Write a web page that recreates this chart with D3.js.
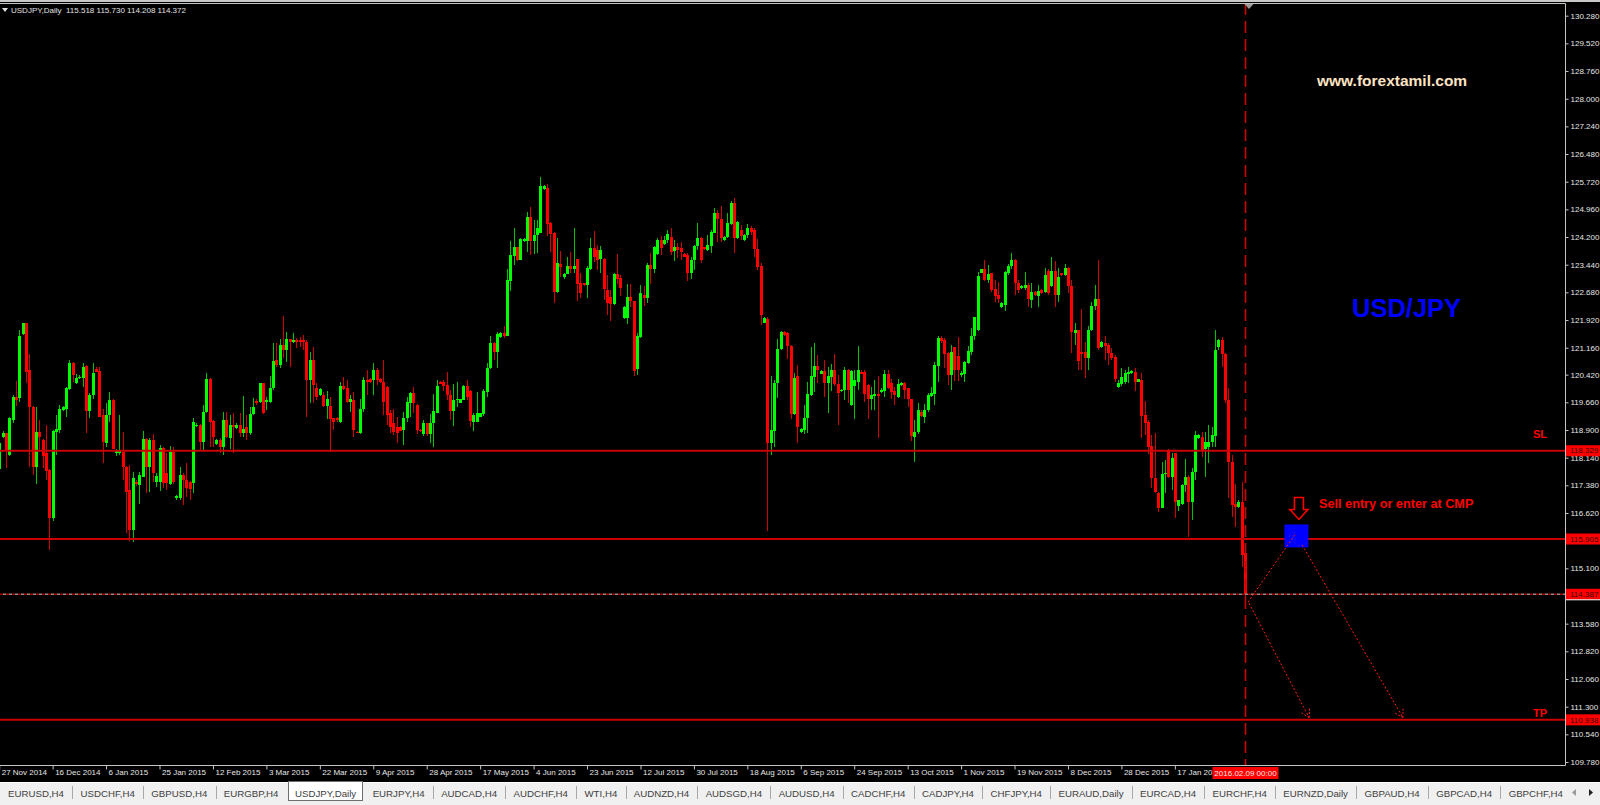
<!DOCTYPE html>
<html><head><meta charset="utf-8">
<script src="https://cdn.jsdelivr.net/npm/d3@7"></script>
<style>html,body{margin:0;padding:0;background:#000;overflow:hidden}</style>
</head><body>
<svg id="c" width="1600" height="805"></svg>
<script>
// ---------------- DATA ----------------
const symbolTitle = "USDJPY,Daily";
const headerOHLC = "115.518 115.730 114.208 114.372";

const opens = [
117.82,118.70,118.81,118.21,119.17,119.81,119.77,121.55,121.83,120.55,
119.54,117.89,118.85,118.62,118.26,117.80,116.47,118.85,118.90,119.45,
119.47,120.02,120.75,120.18,120.32,120.34,120.66,119.42,119.86,120.57,
120.53,119.31,118.53,119.31,119.72,118.26,118.26,118.30,117.89,117.25,
116.15,117.48,117.39,117.62,118.64,117.89,118.62,117.48,117.48,118.41,
117.73,117.43,118.30,117.02,117.02,117.66,117.52,117.48,117.45,119.01,
119.05,118.58,119.40,120.30,119.15,118.51,118.62,118.44,119.17,118.67,
119.04,118.96,119.04,118.81,118.99,118.81,119.33,119.70,119.68,120.18,
119.68,119.68,120.04,120.82,120.68,121.23,121.10,121.39,121.33,121.37,
121.37,121.37,121.33,120.27,120.82,120.04,119.86,119.86,119.56,119.56,
119.22,119.22,119.13,120.11,120.04,119.68,119.72,118.85,118.81,119.49,
120.27,120.29,120.27,120.55,120.29,120.23,120.09,119.36,119.08,118.99,
118.99,118.90,119.22,119.63,119.91,119.59,118.90,118.79,119.08,118.79,
119.08,119.38,120.22,120.22,120.13,119.86,119.43,119.71,119.65,119.72,
120.11,119.97,119.13,119.13,119.27,119.34,119.95,120.59,121.30,121.03,
121.45,121.56,121.48,123.00,123.68,123.92,123.57,124.08,124.08,124.76,
124.08,124.26,124.32,125.52,125.54,124.58,124.32,122.70,123.46,123.09,
123.19,123.41,123.32,123.59,122.95,122.93,122.88,123.32,123.89,123.85,
123.59,123.60,122.75,122.55,122.36,123.19,123.07,121.97,121.97,122.55,
122.43,120.57,121.45,122.60,122.52,123.43,123.32,123.74,124.12,124.00,
124.12,124.21,123.83,123.92,123.89,123.74,123.71,123.22,123.57,123.96,
124.17,123.92,123.85,123.96,124.32,124.87,124.69,124.12,124.19,124.56,
125.13,124.17,124.40,124.12,124.26,124.44,124.40,123.86,123.41,121.85,
121.94,118.53,118.88,120.20,121.12,121.60,121.56,121.21,119.34,120.37,
118.85,118.91,119.24,119.86,120.36,120.65,120.45,120.52,120.18,120.36,
120.56,120.16,119.96,120.01,120.56,119.58,120.11,120.23,120.50,120.50,
120.13,119.74,119.83,119.90,119.95,119.98,120.45,120.18,119.98,119.81,
120.13,120.20,120.04,119.74,118.71,118.85,119.40,119.26,119.45,119.83,
119.88,120.65,121.44,121.37,121.02,120.41,121.17,120.93,120.41,120.45,
120.75,121.05,121.48,121.64,123.22,123.31,123.02,123.20,122.76,122.60,
122.27,122.33,123.20,123.40,123.57,122.94,122.79,122.79,122.88,122.47,
122.70,122.58,122.74,122.70,123.27,122.85,123.27,122.60,123.20,123.15,
123.36,122.85,121.57,121.64,121.05,121.05,120.87,121.64,122.30,122.51,
121.17,121.29,121.23,121.02,120.91,120.07,120.16,120.22,120.43,120.46,
120.50,120.23,120.27,119.31,119.13,118.46,117.57,117.18,116.77,117.69,
118.35,117.62,118.26,116.81,116.88,117.39,117.62,116.93,117.75,118.67,
118.72,118.39,118.44,118.58,118.73,121.19,121.37,121.00,119.72,118.03,
116.87,116.79,116.93,115.518];

const highs = [
118.76,118.87,118.83,119.27,119.86,120.24,121.66,121.85,121.85,120.99,
119.56,119.52,119.17,118.64,119.04,117.82,118.90,119.31,119.59,119.55,
120.09,120.82,120.77,120.44,120.40,120.73,120.68,119.91,120.73,120.64,
120.64,119.49,119.63,119.93,119.74,118.38,119.31,118.85,117.91,117.94,
117.75,117.52,117.75,118.87,118.67,118.69,118.79,117.73,118.49,118.44,
118.26,118.47,118.44,117.12,117.89,117.71,117.98,117.50,119.22,119.08,
119.07,119.60,120.47,120.32,119.17,118.65,118.67,119.40,119.40,119.31,
119.36,119.08,119.36,119.83,119.31,119.54,119.77,119.74,120.20,120.20,
119.81,120.38,121.28,121.28,121.39,122.03,121.60,121.41,121.57,121.44,
121.46,121.51,121.37,121.05,121.19,120.18,120.06,119.95,119.98,119.81,
119.24,119.25,120.23,120.35,120.27,119.86,119.95,118.87,119.74,120.36,
120.55,120.32,120.73,120.59,120.32,120.82,120.11,119.45,119.47,119.27,
119.01,119.40,119.80,119.95,120.07,119.61,118.92,119.18,119.10,119.34,
119.88,120.27,120.24,120.27,120.49,120.00,120.17,120.22,119.76,120.14,
120.27,119.99,119.36,119.93,119.38,120.02,120.73,121.48,121.32,121.58,
121.58,121.76,123.32,124.08,124.44,123.94,124.17,124.17,124.90,125.02,
124.67,124.67,125.84,125.62,125.66,124.62,124.34,124.17,123.83,123.22,
123.66,123.80,124.44,123.61,123.20,122.95,123.41,124.17,124.37,123.98,
123.96,123.62,123.16,122.75,123.22,123.73,123.16,122.31,122.91,122.91,
122.45,121.56,122.88,122.86,123.48,123.75,123.96,124.17,124.23,124.23,
124.38,124.44,124.12,124.05,124.07,123.77,123.75,123.66,123.98,124.58,
124.19,123.94,124.26,124.38,124.99,124.94,125.05,124.23,124.85,125.20,
125.27,124.63,124.53,124.28,124.56,124.50,124.44,124.14,123.48,121.99,
122.01,120.38,120.27,121.39,121.63,121.63,121.58,121.24,120.46,120.69,
118.96,119.58,120.22,121.18,121.30,120.96,120.54,120.82,120.64,120.70,
120.98,120.41,120.03,120.64,120.58,120.55,120.56,121.20,120.54,120.56,
120.16,120.09,120.27,120.38,120.04,120.54,120.54,120.31,120.09,120.31,
120.22,120.22,120.06,119.76,119.17,119.63,119.45,119.61,119.92,120.09,
120.77,121.48,121.48,121.42,121.04,121.23,121.19,121.46,120.53,120.80,
121.20,121.69,122.01,123.25,123.33,123.58,123.43,123.21,123.03,122.97,
122.42,123.27,123.47,123.75,123.59,123.03,122.87,123.25,122.93,122.93,
122.72,122.88,122.76,123.34,123.31,123.64,123.55,123.36,123.22,123.47,
123.38,123.03,121.84,121.66,122.21,121.32,121.75,122.42,122.88,123.57,
121.35,121.48,121.30,121.14,120.96,120.27,120.59,120.54,120.62,120.55,
120.59,120.31,120.46,119.70,119.17,118.76,118.81,117.20,118.01,118.07,
118.37,118.28,118.28,116.99,117.42,118.09,117.66,117.86,118.87,118.80,
118.85,118.85,119.04,118.99,121.66,121.39,121.46,121.02,120.04,118.21,
117.42,116.97,117.48,115.730];

const lows = [
117.80,118.67,117.85,118.18,119.10,119.56,119.68,121.51,120.18,117.89,
117.66,117.42,118.30,117.85,117.52,115.60,116.40,118.21,118.81,119.42,
119.27,120.00,120.23,120.16,120.29,120.09,118.83,119.22,119.75,120.48,
119.25,118.00,118.44,119.13,118.37,118.19,118.21,117.52,116.06,115.86,
115.83,117.37,116.88,117.60,117.16,117.20,117.48,117.34,117.23,117.30,
117.25,117.39,117.43,116.98,116.99,116.84,117.07,116.98,117.16,118.99,
118.35,118.35,119.36,118.44,118.44,118.48,118.26,118.21,118.67,118.39,
118.26,118.93,118.72,118.72,118.62,118.76,119.31,119.60,119.63,119.34,
119.45,119.63,120.00,120.64,120.59,120.87,120.78,120.64,121.28,121.14,
121.19,121.10,119.27,119.63,119.63,119.72,119.83,119.54,119.19,118.30,
118.90,119.13,119.08,120.00,119.63,119.40,118.72,118.81,118.78,119.40,
119.86,120.20,119.86,120.13,120.20,119.31,119.04,118.81,118.76,118.55,
118.86,118.49,119.13,119.27,119.36,118.79,118.84,118.74,118.74,118.55,
118.44,119.36,120.15,119.98,119.71,119.18,119.02,119.54,119.63,119.71,
119.72,118.99,118.86,119.13,119.25,119.29,119.80,120.57,120.81,120.61,
121.43,121.42,121.47,122.73,123.43,123.55,123.57,124.06,123.80,123.71,
123.74,123.75,124.30,125.50,124.23,123.80,122.40,122.65,123.11,123.06,
123.18,123.20,123.20,122.43,122.52,122.86,122.52,123.30,123.52,123.30,
123.21,122.47,122.06,121.90,122.33,122.91,122.57,121.94,121.81,122.29,
120.38,120.41,121.42,122.30,122.38,122.91,123.21,123.71,123.71,123.98,
124.05,123.71,123.55,123.62,123.57,123.64,122.98,123.04,123.30,123.85,
123.50,123.85,123.83,123.77,124.30,124.07,124.07,124.10,124.17,124.53,
123.76,124.14,124.12,124.10,124.17,124.26,123.66,123.30,121.79,121.83,
116.12,118.21,118.44,119.77,121.10,121.47,120.84,119.19,119.31,118.53,
118.83,118.79,118.82,119.83,119.95,120.18,120.43,119.81,119.37,119.97,
120.10,119.03,119.94,119.72,119.65,119.55,119.19,119.99,120.43,119.67,
119.19,119.45,119.45,118.67,119.92,119.81,120.02,119.74,119.58,119.79,
120.11,119.74,119.52,118.60,118.03,118.80,119.26,119.10,119.40,119.81,
119.58,120.22,121.30,120.59,120.13,119.99,120.25,120.25,120.36,120.22,
120.71,120.96,121.37,121.62,123.20,123.00,122.93,122.70,122.42,122.39,
122.24,122.17,123.15,123.31,122.61,122.67,122.76,122.74,122.27,122.24,
122.58,122.28,122.63,122.65,122.60,122.83,122.27,122.42,123.13,123.13,
122.67,121.02,121.23,120.56,120.54,120.32,120.54,121.62,122.19,121.09,
121.14,120.82,120.68,120.82,120.22,120.04,120.11,120.16,120.20,120.44,
119.98,120.21,118.67,118.76,118.24,117.30,117.18,116.65,116.75,117.18,
117.57,117.25,116.47,116.68,116.84,117.20,115.95,116.43,117.52,118.64,
118.15,117.62,118.00,118.44,118.44,121.11,120.64,119.65,117.02,116.50,
116.24,116.77,115.14,114.208];

const closes = [
118.53,118.83,118.35,119.22,119.81,119.72,121.48,121.83,120.50,119.52,
117.89,118.85,118.72,118.18,117.78,116.47,118.87,118.92,119.48,119.52,
120.06,120.73,120.41,120.32,120.36,120.64,119.42,119.86,120.47,120.50,
119.27,118.58,119.31,119.72,118.39,118.33,118.33,117.87,117.20,116.15,
117.57,117.41,117.66,118.64,117.89,118.62,117.73,117.63,118.41,117.45,
117.45,118.30,117.48,117.09,117.66,117.52,117.30,117.27,119.11,119.05,
118.58,119.40,120.30,119.13,118.72,118.62,118.44,119.17,118.72,119.04,
118.97,119.05,118.81,118.94,118.81,119.33,119.54,119.63,120.18,119.36,
119.72,120.04,120.80,120.68,121.23,121.10,121.39,121.33,121.37,121.31,
121.31,121.31,120.27,120.82,120.13,119.81,120.02,119.56,119.74,119.19,
119.13,119.17,120.11,120.02,119.68,119.74,118.90,118.83,119.49,120.27,
120.23,120.23,120.55,120.27,120.23,119.68,119.31,118.99,118.85,118.83,
118.88,119.22,119.66,119.91,119.65,118.90,118.86,119.08,118.79,119.08,
119.43,120.11,120.17,120.11,119.86,119.43,119.71,119.74,119.74,120.11,
119.80,119.16,119.31,119.36,119.36,119.98,120.61,121.30,121.03,121.54,
121.56,121.48,123.02,123.71,123.92,123.57,124.15,124.15,124.76,124.08,
124.26,124.44,125.60,125.59,124.55,124.29,122.70,123.50,123.37,123.19,
123.41,123.32,123.41,122.91,122.67,122.88,123.34,123.89,123.66,123.57,
123.85,122.77,122.38,122.36,123.19,123.04,122.81,122.29,122.55,122.43,
120.53,121.48,122.67,122.52,123.43,123.32,123.94,124.12,123.89,124.12,
124.29,123.80,123.94,123.85,123.80,123.66,123.22,123.57,123.96,124.17,
123.57,123.87,123.98,124.35,124.87,124.69,124.17,124.21,124.58,125.13,
124.17,124.60,124.23,124.26,124.44,124.35,123.86,123.39,122.06,121.97,
118.53,118.90,120.20,121.12,121.60,121.51,121.21,119.34,120.32,118.99,
118.94,119.24,119.88,120.38,120.65,120.54,120.52,120.18,120.38,120.56,
120.16,119.92,120.01,120.54,120.01,120.52,120.26,120.54,120.45,119.90,
119.74,119.86,119.90,119.83,120.01,120.45,120.04,119.95,119.86,120.16,
120.20,120.01,119.74,118.73,118.85,119.45,119.28,119.46,119.86,119.92,
120.68,121.44,121.35,121.00,120.41,121.05,120.56,120.56,120.47,120.77,
121.08,121.48,121.99,123.13,123.31,123.02,123.18,122.74,122.58,122.51,
122.38,123.25,123.40,123.57,122.93,122.74,122.85,122.88,122.49,122.70,
122.60,122.72,122.65,123.15,122.65,123.27,122.60,123.11,123.15,123.34,
122.85,121.60,121.64,120.80,120.98,120.87,121.64,122.30,122.49,121.14,
121.32,121.20,121.02,120.87,120.29,120.20,120.36,120.47,120.50,120.53,
120.23,120.29,119.28,119.10,118.44,117.57,117.20,116.77,117.69,117.73,
117.62,118.14,116.93,116.97,117.39,117.62,116.93,117.75,118.76,118.76,
118.35,118.58,118.58,118.76,121.10,121.37,121.00,119.72,118.03,116.84,
116.79,116.91,115.46,114.372];

const dateTickBars = [0,16,32,48,64,80,96,112,128,144,160,176,192,208,224,240,256,272,288,304,320,336,352];
const dateTickLabels = ["27 Nov 2014","16 Dec 2014","6 Jan 2015","25 Jan 2015","12 Feb 2015","3 Mar 2015",
  "22 Mar 2015","9 Apr 2015","28 Apr 2015","17 May 2015","4 Jun 2015","23 Jun 2015","12 Jul 2015",
  "30 Jul 2015","18 Aug 2015","6 Sep 2015","24 Sep 2015","13 Oct 2015","1 Nov 2015","19 Nov 2015",
  "8 Dec 2015","28 Dec 2015","17 Jan 2016"];
const priceTicks = [130.28,129.52,128.76,128.00,127.24,126.48,125.72,124.96,124.20,123.44,122.68,121.92,
  121.16,120.42,119.66,118.90,118.14,117.38,116.62,115.86,115.10,114.34,113.58,112.82,112.06,111.30,110.54,109.78];

const levelSL = 118.329, levelEntry = 115.905, levelCurrent = 114.387, levelTP = 110.938;
const cursorBar = 373;
const cursorLabel = "2016.02.09 00:00";

// projected trade path (bar index, price)
const legUp    = [[373.9,114.17],[388.3,116.07]];
const legFar   = [[390.1,115.74],[420.3,111.00]];
const legNear  = [[374.2,114.14],[392.2,111.00]];
const entryMark = [388.4, 115.99];

const tabNames = ["EURUSD,H4","USDCHF,H4","GBPUSD,H4","EURGBP,H4","USDJPY,Daily","EURJPY,H4","AUDCAD,H4",
  "AUDCHF,H4","WTI,H4","AUDNZD,H4","AUDSGD,H4","AUDUSD,H4","CADCHF,H4","CADJPY,H4","CHFJPY,H4",
  "EURAUD,Daily","EURCAD,H4","EURCHF,H4","EURNZD,Daily","GBPAUD,H4","GBPCAD,H4","GBPCHF,H4"];
const activeTab = "USDJPY,Daily";

// ---------------- CHART ----------------
const W = 1600, H = 805;
const plot = {left:0, right:1565, top:3, bottom:765};
const FONT = "'Liberation Sans', Arial, sans-serif";
const svg = d3.select("#c");

svg.append("rect").attr("width",W).attr("height",H).attr("fill","#000");
svg.append("rect").attr("x",0).attr("y",0).attr("width",W).attr("height",2).attr("fill","#c8c8c8");

const x = d3.scaleLinear().domain([0, 373]).range([-0.8, 1245]);
const y = d3.scaleLinear().domain([109.78, 130.28]).range([762, 15.7]);

svg.append("clipPath").attr("id","pc").append("rect")
  .attr("x",plot.left).attr("y",plot.top).attr("width",plot.right-plot.left).attr("height",plot.bottom-plot.top);
const g = svg.append("g").attr("clip-path","url(#pc)");

const bars = opens.map((o,i)=>({i, o, h:highs[i], l:lows[i], c:closes[i]}));
const bull = d => d.c >= d.o;

g.append("g").selectAll("line").data(bars).join("line")
  .attr("x1", d=>Math.round(x(d.i))+0.5).attr("x2", d=>Math.round(x(d.i))+0.5)
  .attr("y1", d=>y(Math.max(d.h,d.o,d.c))).attr("y2", d=>y(Math.min(d.l,d.o,d.c)))
  .attr("stroke", d=>bull(d)?"#00c400":"#d40000").attr("stroke-width",1)
  .attr("shape-rendering","crispEdges");

g.append("g").selectAll("rect").data(bars).join("rect")
  .attr("x", d=>Math.round(x(d.i))-1).attr("width",3)
  .attr("y", d=>y(Math.max(d.o,d.c)))
  .attr("height", d=>Math.max(1, Math.abs(y(d.o)-y(d.c))))
  .attr("fill", d=>bull(d)?"#00ff00":"#ff0000")
  .attr("shape-rendering","crispEdges");

// horizontal levels
[levelSL, levelEntry, levelTP].forEach(v=>{
  g.append("line").attr("x1",plot.left).attr("x2",plot.right)
    .attr("y1",y(v)).attr("y2",y(v)).attr("stroke","#cc0000").attr("stroke-width",2);
});
g.append("line").attr("x1",plot.left).attr("x2",plot.right)
  .attr("y1",y(levelCurrent)).attr("y2",y(levelCurrent)).attr("stroke","#b00000").attr("stroke-width",1.5)
  .attr("stroke-dasharray","3,3");
g.append("line").attr("x1",plot.left+3).attr("x2",plot.right)
  .attr("y1",y(levelCurrent)).attr("y2",y(levelCurrent)).attr("stroke","#8a8a8a").attr("stroke-width",1.5)
  .attr("stroke-dasharray","3,3");

// vertical cursor line
const cx = Math.round(x(cursorBar))+0.5;
g.append("line").attr("x1",cx).attr("x2",cx).attr("y1",plot.top).attr("y2",plot.bottom)
  .attr("stroke","#d00000").attr("stroke-width",1.6).attr("stroke-dasharray","12,6");
svg.append("path").attr("d",`M${cx-1},${plot.top+1}L${cx+8},${plot.top+1}L${cx+3.5},${plot.top+6}Z`).attr("fill","#9a9a9a");

// entry marker box
const bx = x(entryMark[0]), by = y(entryMark[1]);
g.append("rect").attr("x",bx-12).attr("y",by-11.5).attr("width",24).attr("height",23).attr("fill","#0000ff");

// dotted trade legs
const lineGen = d3.line().x(d=>x(d[0])).y(d=>y(d[1]));
function leg(pts, arrow){
  g.append("path").attr("d",lineGen(pts)).attr("fill","none").attr("stroke","#ff1a1a")
    .attr("stroke-width",1).attr("stroke-dasharray","2,2");
  if(arrow){
    const x1=x(pts[0][0]), y1=y(pts[0][1]), x2=x(pts[1][0]), y2=y(pts[1][1]);
    const a = Math.atan2(y2-y1, x2-x1);
    [a+Math.PI*0.83, a-Math.PI*0.83].forEach(b=>{
      g.append("line").attr("x1",x2).attr("y1",y2)
        .attr("x2",x2+9*Math.cos(b)).attr("y2",y2+9*Math.sin(b))
        .attr("stroke","#ff1a1a").attr("stroke-width",1).attr("stroke-dasharray","2,1.5");
    });
  }
}
leg(legUp,false); leg(legFar,true); leg(legNear,true);

// hollow down arrow above box
const ax0 = bx+2.5, at = by-11.5;
g.append("path")
  .attr("d",`M${ax0-4.5},${at-27}H${ax0+4.5}V${at-15}H${ax0+9}L${ax0},${at-5}L${ax0-9},${at-15}H${ax0-4.5}Z`)
  .attr("fill","none").attr("stroke","#ff0000").attr("stroke-width",1.6);

// texts
g.append("text").attr("x",1319).attr("y",507.5).attr("fill","#ff0000")
  .style("font",`bold 12.7px ${FONT}`).text("Sell entry or enter at CMP");
g.append("text").attr("x",1533).attr("y",437.7).attr("fill","#ff0000")
  .style("font",`bold 11px ${FONT}`).text("SL");
g.append("text").attr("x",1533).attr("y",716.7).attr("fill","#ff0000")
  .style("font",`bold 11px ${FONT}`).text("TP");
g.append("text").attr("x",1352).attr("y",316.7).attr("fill","#0000ff")
  .style("font",`bold 25.5px ${FONT}`).text("USD/JPY");
g.append("text").attr("x",1317).attr("y",86).attr("fill","#ffe4c4")
  .style("font",`bold 15.5px ${FONT}`).text("www.forextamil.com");

// plot border
svg.append("path").attr("d",`M0,${plot.top+0.5}H${plot.right+0.5}V${plot.bottom+0.5}H0`)
  .attr("fill","none").attr("stroke","#c4c4c4").attr("stroke-width",1);

// right price axis
const ay = svg.append("g").attr("transform",`translate(${plot.right+0.5},0)`)
  .call(d3.axisRight(y).tickValues(priceTicks).tickSize(3).tickPadding(2).tickFormat(d3.format(".3f")));
ay.select(".domain").remove();
ay.attr("font-family",FONT).attr("font-size",8);
ay.selectAll("line").attr("stroke","#c4c4c4");
ay.selectAll("text").attr("fill","#e6e6e6");

// bottom date axis
const axb = svg.append("g").attr("transform",`translate(0,${plot.bottom+0.5})`)
  .call(d3.axisBottom(x).tickValues(dateTickBars).tickSize(4).tickFormat((d,i)=>dateTickLabels[i]));
axb.select(".domain").remove();
axb.attr("font-family",FONT).attr("font-size",8);
axb.selectAll("line").attr("stroke","#c4c4c4");
axb.selectAll("text").attr("fill","#e6e6e6").attr("text-anchor","start").attr("x",2).attr("y",4).attr("dy","0.72em");

// level price labels on axis
[levelSL, levelEntry, levelCurrent, levelTP].forEach(v=>{
  const yy = y(v);
  svg.append("rect").attr("x",plot.right+1).attr("y",yy-5.5).attr("width",W-plot.right-1).attr("height",11).attr("fill","#ff0000");
  svg.append("text").attr("x",plot.right+5).attr("y",yy).attr("dy","0.34em").attr("fill","#3a0000")
    .style("font",`8px ${FONT}`).text(d3.format(".3f")(v));
});
svg.append("line").attr("x1",plot.right+1).attr("x2",W).attr("y1",y(levelCurrent)+5.5).attr("y2",y(levelCurrent)+5.5)
  .attr("stroke","#ffffff").attr("stroke-width",1);

// cursor date label
svg.append("rect").attr("x",cx-33).attr("y",plot.bottom+2).attr("width",66).attr("height",12).attr("fill","#ff0000");
svg.append("text").attr("x",cx).attr("y",plot.bottom+8).attr("dy","0.34em").attr("text-anchor","middle")
  .attr("fill","#ffe8e8").style("font",`8px ${FONT}`).text(cursorLabel);

// header
svg.append("path").attr("d","M2,8L8,8L5,12Z").attr("fill","#e0e0e0");
svg.append("text").attr("x",11).attr("y",13).attr("fill","#e0e0e0").style("font",`8px ${FONT}`)
  .style("white-space","pre").text(symbolTitle + "  " + headerOHLC);

// tab strip
const tabTop = 782;
svg.append("rect").attr("x",0).attr("y",tabTop).attr("width",W).attr("height",H-tabTop).attr("fill","#f0f0f0");
svg.append("line").attr("x1",0).attr("x2",W).attr("y1",tabTop+0.5).attr("y2",tabTop+0.5).attr("stroke","#ffffff");
const tg = svg.append("g").attr("font-family",FONT).attr("font-size",9.7);
const widths = tabNames.map(t=>{const n=tg.append("text").text(t); const w=n.node().getComputedTextLength(); n.remove(); return w;});
const tStart = 8, tEnd = 1563;
const gap = (tEnd - tStart - d3.sum(widths)) / (tabNames.length-1);
let tx = tStart;
tabNames.forEach((t,k)=>{
  const w = widths[k];
  if(t===activeTab){
    tg.append("rect").attr("x",Math.round(tx-7)+0.5).attr("y",tabTop-0.5).attr("width",Math.round(w+13)).attr("height",19)
      .attr("fill","#ffffff").attr("stroke","#6e6e6e");
  }
  tg.append("text").attr("x",tx).attr("y",797).attr("fill","#404040").text(t);
  if(k<tabNames.length-1 && t!==activeTab && tabNames[k+1]!==activeTab){
    const sx = Math.round(tx+w+gap/2)+0.5;
    tg.append("line").attr("x1",sx).attr("x2",sx).attr("y1",786).attr("y2",799).attr("stroke","#a8a8a8");
  }
  tx += w + gap;
});
svg.append("path").attr("d","M1576,789L1572,792.5L1576,796Z").attr("fill","#9a9a9a");
svg.append("path").attr("d","M1589,789L1593,792.5L1589,796Z").attr("fill","#202020");
</script>
</body></html>
